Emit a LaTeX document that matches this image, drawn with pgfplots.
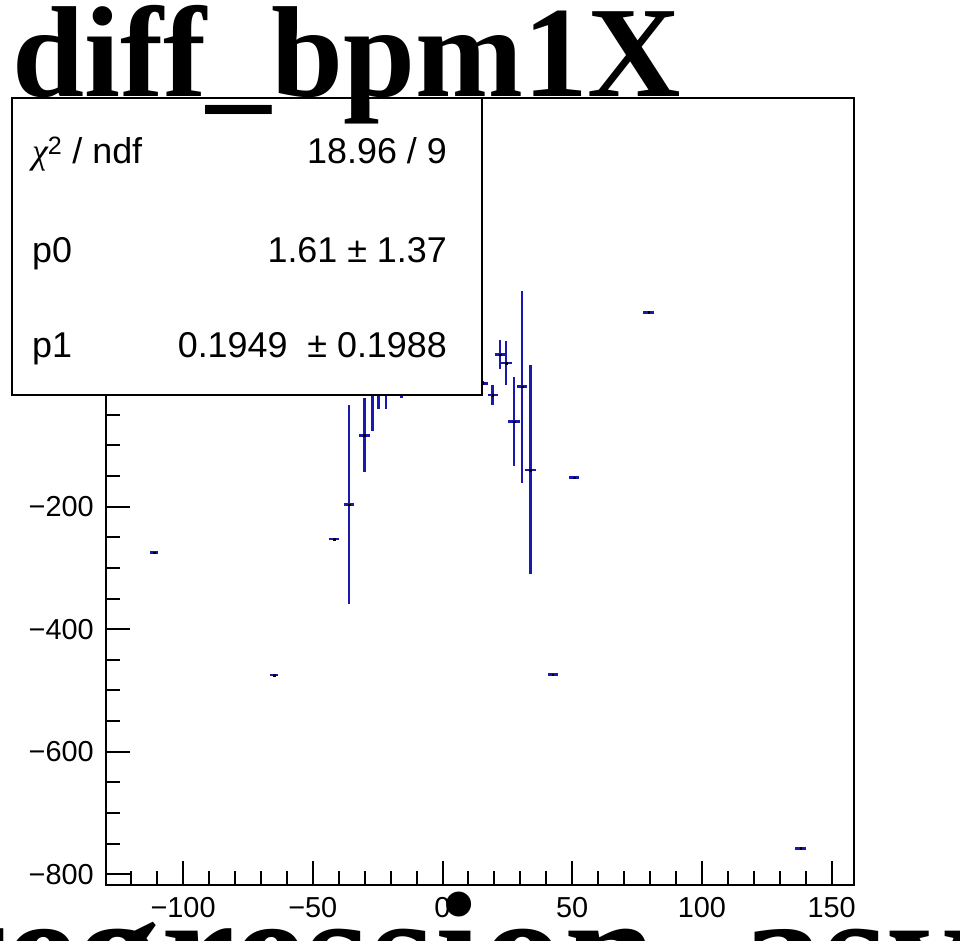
\documentclass[border=0pt]{standalone}
\usepackage{fontspec}
\setmainfont{Liberation Sans}
\newfontfamily\serifbf{Liberation Serif}[Ligatures=CommonOff]
\newfontfamily\serifit{Liberation Serif}
\usepackage{pgfplots}
\pgfplotsset{compat=1.18}
\usepackage{pgfplotstable}
\definecolor{rootblue}{RGB}{25,25,175}

\pgfplotstableread{
x y ex ey
-111.2 -274.8 1.6 0
-64.9 -475.0 1.6 0
-41.8 -253.0 1.9 0
-36.0 -196.4 1.9 162
-30.1 -83.3 2.1 60.4
-27.1 -15.0 2.0 61
-24.7 0.0 2.0 41
-21.8 5.0 2.0 46
-15.7 -5.0 2.0 18
15.5 1.5 2.0 3
19.3 -17.6 1.9 16.9
22.2 48.5 2.1 23.3
24.5 34.8 2.1 36.2
27.6 -61.2 2.4 72.7
30.6 -4.1 2.0 157
33.9 -140.0 2.2 170.6
42.5 -474.0 1.9 0
50.8 -152.6 1.9 0
79.5 117.1 2.1 0
138.0 -757.7 2.0 0
}\datatab

\begin{document}
\begin{tikzpicture}
\useasboundingbox (0,0) rectangle (960bp,941bp);
\begin{axis}[
  at={(106bp,56bp)}, anchor=south west,
  scale only axis, width=748bp, height=787bp,
  xmin=-129.7, xmax=158.6, ymin=-817.6, ymax=467.3,
  axis line style={line width=2bp},
  tick align=inside, tick pos=left,
  xtick={-100,-50,0,50,100,150},
  xticklabels={−100,−50,0,50,100,150},
  ytick={-800,-600,-400,-200,0,200,400},
  yticklabels={−800,−600,−400,−200,0,200,400},
  minor xtick={-120,-110,...,150},
  minor ytick={-800,-750,...,450},
  major tick length=24bp, minor tick length=14bp,
  every tick/.style={black, line width=2bp},
  tick label style={font=\fontsize{29}{29}\selectfont, inner sep=0pt},
  xticklabel style={yshift=-12bp},
  yticklabel style={xshift=-12bp},
]
\addplot[only marks, mark=square*, mark size=0.8bp, black,
  error bars/.cd, x dir=both, x explicit, y dir=both, y explicit,
  error mark=none, error bar style={line width=2.6bp, draw=rootblue}]
  table[x=x, y=y, x error=ex, y error=ey]{\datatab};
\end{axis}
% stats box
\draw[line width=2.5bp, fill=white] (12bp,546bp) rectangle (482bp,843bp);
\begin{scope}[every node/.style={inner sep=0pt, font=\fontsize{36}{36}\selectfont}]
\node[anchor=base west] at (32bp,777bp) {{\serifit\itshape χ}\textsuperscript{2} / ndf};
\node[anchor=base east] at (447bp,777bp) {18.96 / 9};
\node[anchor=base west] at (32bp,678bp) {p0};
\node[anchor=base east] at (447bp,678bp) {1.61 ± 1.37};
\node[anchor=base west] at (32bp,583bp) {p1};
\node[anchor=base east] at (447bp,583bp) {0.1949\ \ ± 0.1988};
\end{scope}
% title
\node[anchor=base west, inner sep=0pt, font=\serifbf\bfseries\fontsize{130}{130}\selectfont] at (12bp,844bp) {diff\_bpm1X};
% x-axis title (mostly below the page)
\node[anchor=base west, inner sep=0pt, font=\serifbf\bfseries\fontsize{167}{167}\selectfont] at (-67bp,-66bp) {regression\_asym};
\end{tikzpicture}
\end{document}
